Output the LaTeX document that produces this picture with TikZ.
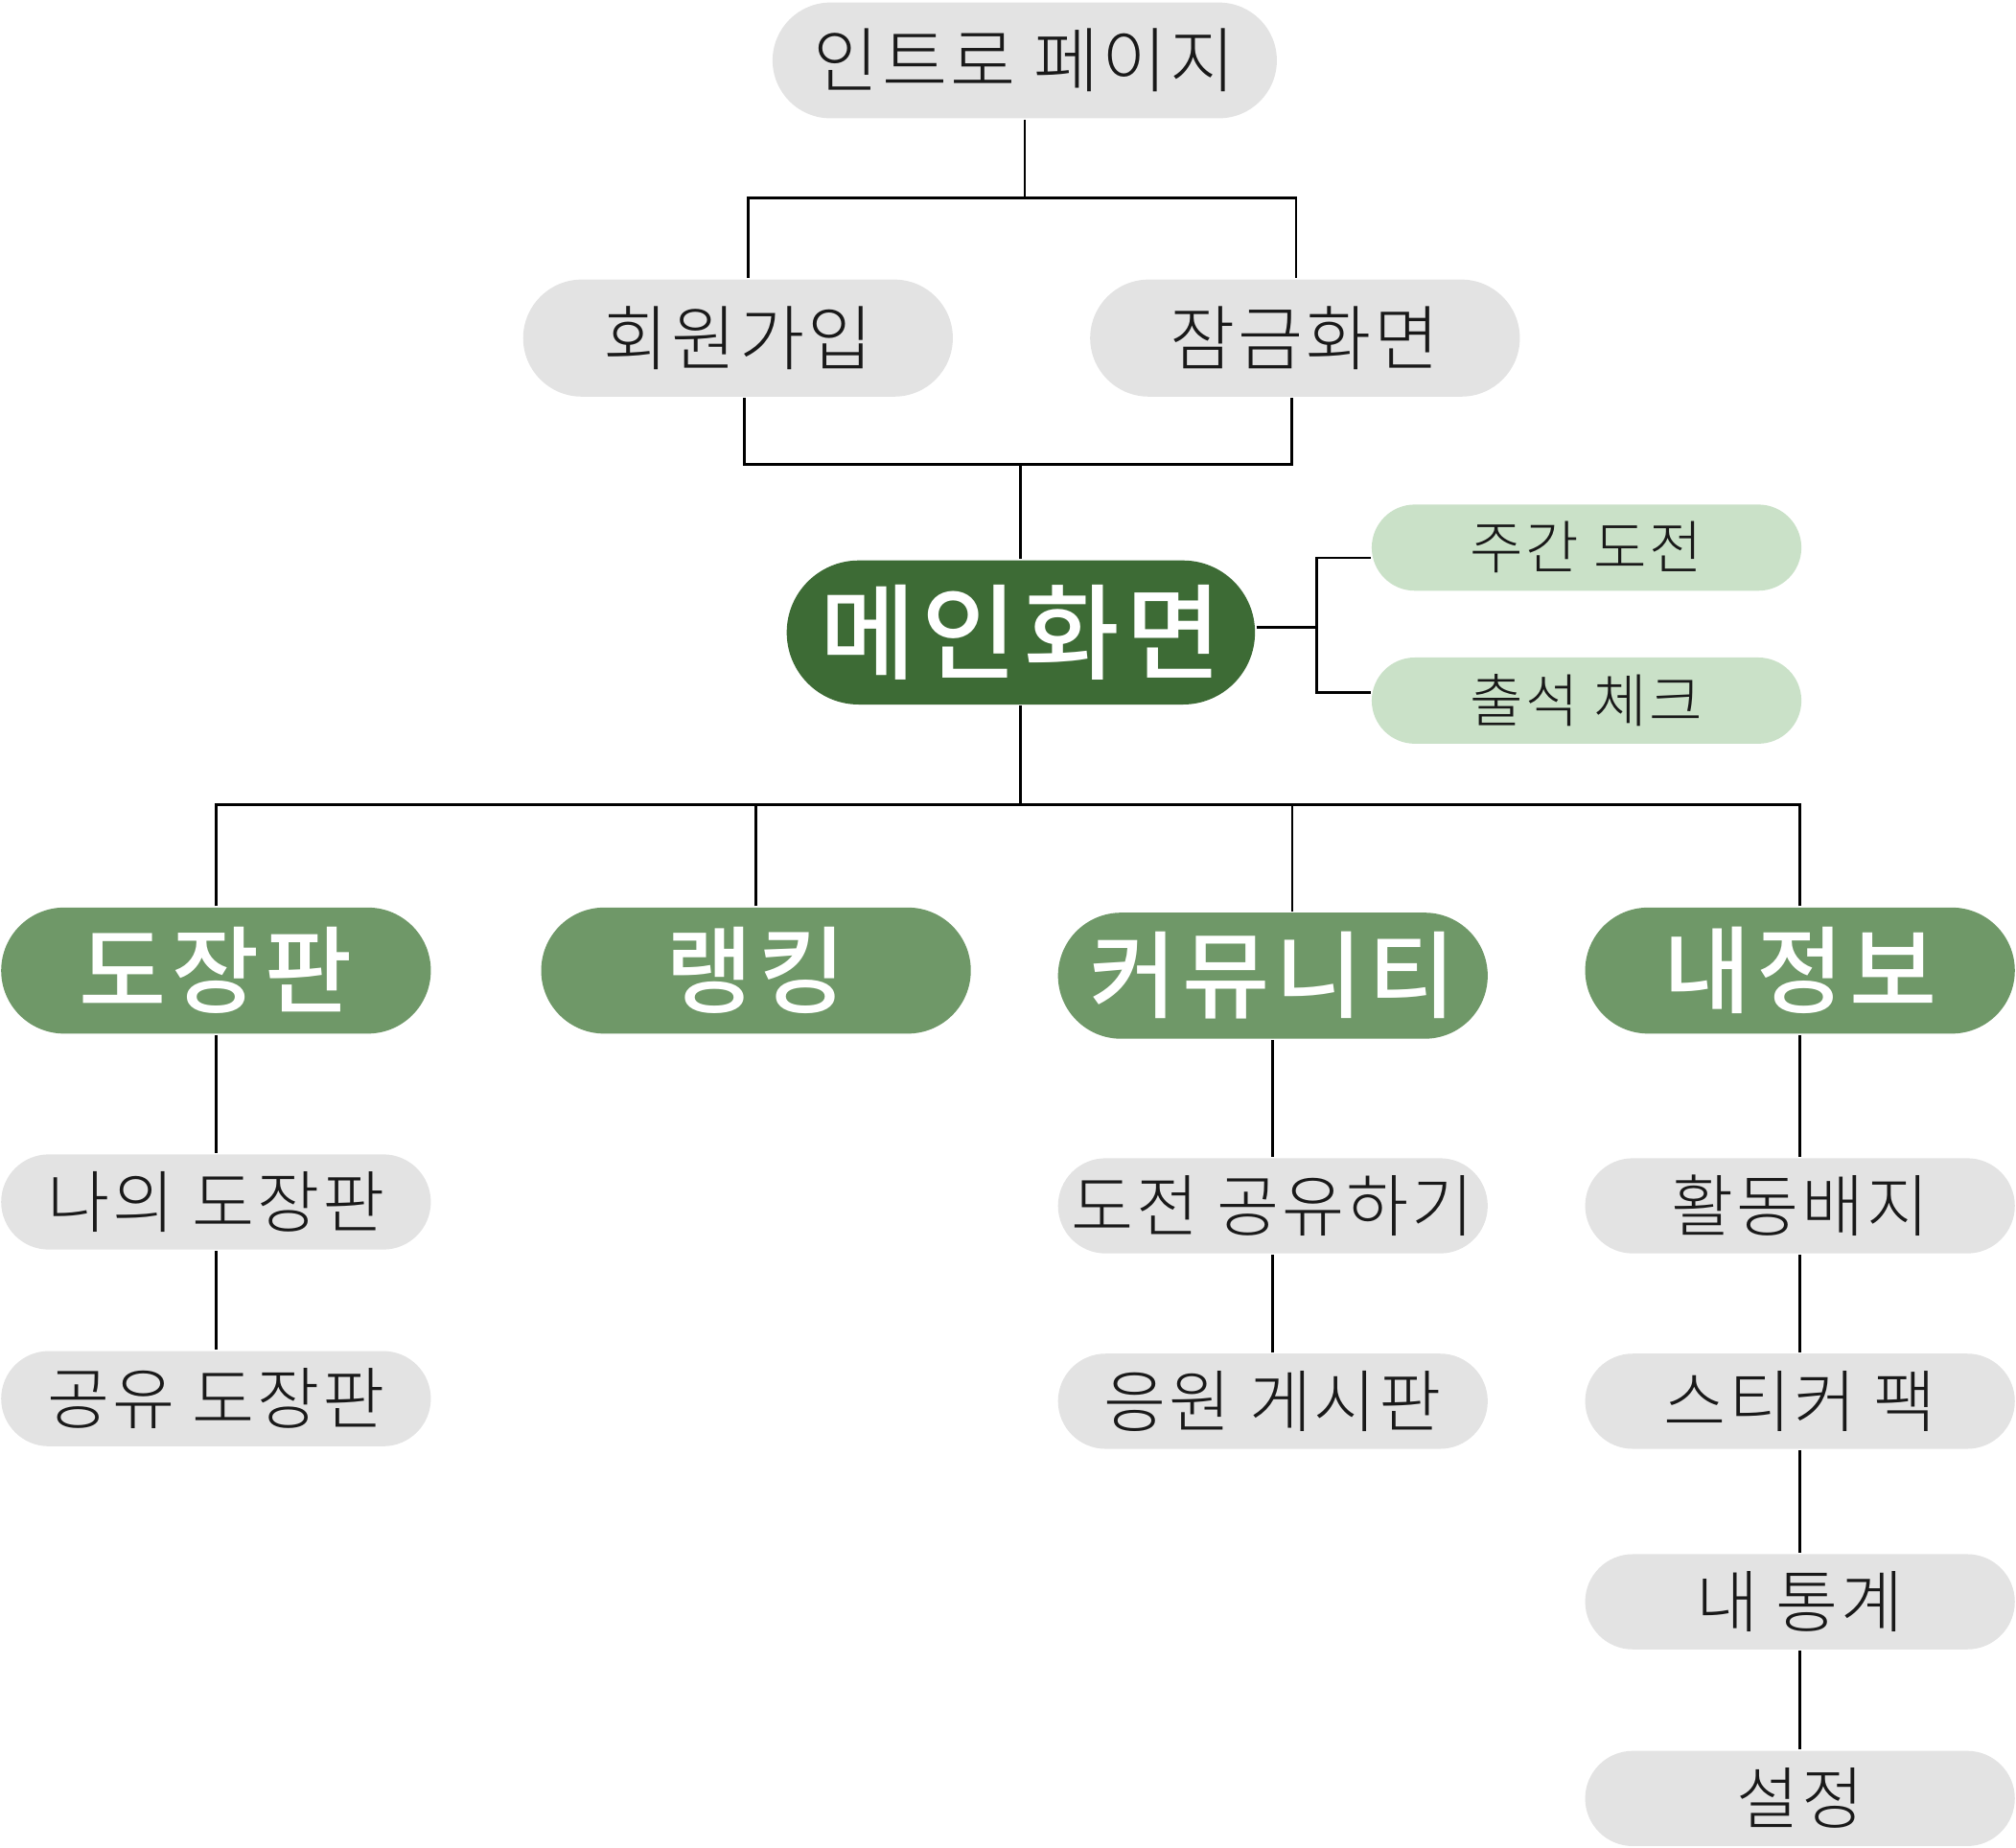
\documentclass[tikz,border=0pt]{standalone}
\usepackage{fontspec}
\setmainfont{Noto Sans CJK KR}
\IfFontExistsTF{Noto Sans CJK KR Light}
  {\newfontfamily\krlight[LetterSpace=4]{Noto Sans CJK KR Light}}
  {\newfontfamily\krlight[LetterSpace=4]{Noto Sans CJK KR}}
\IfFontExistsTF{Noto Sans CJK KR Medium}
  {\newfontfamily\krheavy[LetterSpace=6]{Noto Sans CJK KR Medium}}
  {\newfontfamily\krheavy[LetterSpace=6]{Noto Sans CJK KR Bold}}
\usepackage{tikz}

\definecolor{boxgray}{HTML}{E3E3E3}
\definecolor{maingreen}{HTML}{3D6B35}
\definecolor{menugreen}{HTML}{6F9868}
\definecolor{palegreen}{HTML}{CAE1C8}

\begin{document}
\begin{tikzpicture}[x=0.01cm, y=-0.01cm, line width=0.6pt,
  pagebox/.style={fill=boxgray, text=black!90, inner sep=0pt, minimum width=3.34cm,
    minimum height=0.91cm, rounded corners=0.455cm, font=\krlight\fontsize{15.7}{18}\selectfont},
  mainbox/.style={fill=maingreen, text=white, inner sep=0pt, minimum width=3.64cm,
    minimum height=1.12cm, rounded corners=0.56cm, font=\krheavy\fontsize{23}{27}\selectfont},
  quickbox/.style={fill=palegreen, text=black!90, inner sep=0pt, minimum width=3.34cm,
    minimum height=0.67cm, rounded corners=0.335cm, font=\krlight\fontsize{12.8}{15}\selectfont},
  menubox/.style={fill=menugreen, text=white, inner sep=0pt, minimum width=3.34cm,
    minimum height=0.98cm, rounded corners=0.49cm, font=\krheavy\fontsize{21}{25}\selectfont},
  subbox/.style={fill=boxgray, text=black!90, inner sep=0pt, minimum width=3.34cm,
    minimum height=0.74cm, rounded corners=0.37cm, font=\krlight\fontsize{15}{18}\selectfont}]
\useasboundingbox (0,0) rectangle (1568,1437);

% pages
\node[pagebox, minimum width=3.92cm, minimum height=0.9cm, rounded corners=0.45cm] (intro) at (797,47) {인트로 페이지};
\node[pagebox] (signup) at (574,263) {회원가입};
\node[pagebox] (lock) at (1015,263) {잠금화면};
\node[mainbox] (main) at (794,492) {메인화면};
\node[quickbox] (weekly) at (1234,426) {주간 도전};
\node[quickbox] (attend) at (1234,545) {출석 체크};

% menus
\node[menubox] (board) at (168,755) {도장판};
\node[menubox] (rank) at (588,755) {랭킹};
\node[menubox] (comm) at (990,759) {커뮤니티};
\node[menubox] (myinfo) at (1400,755) {내정보};

% sub pages
\node[subbox] (myboard) at (168,935) {나의 도장판};
\node[subbox] (shareboard) at (168,1088) {공유 도장판};
\node[subbox] (sharechal) at (990,938) {도전 공유하기};
\node[subbox] (cheer) at (990,1090) {응원 게시판};
\node[subbox] (badge) at (1400,938) {활동배지};
\node[subbox] (sticker) at (1400,1090) {스티커 팩};
\node[subbox] (stats) at (1400,1246) {내 통계};
\node[subbox] (settings) at (1400,1399) {설정};

% junctions
\coordinate (j1) at (797,154);
\coordinate (j2) at (794,361);
\coordinate (j3) at (1024,488);
\coordinate (j4) at (794,626);

\draw (intro) -- (j1);
\draw ([xshift=0.08cm]signup.north) |- (j1) -| ([xshift=-0.07cm]lock.north);
\draw ([xshift=0.05cm]signup.south) |- (j2) -| ([xshift=-0.1cm]lock.south);
\draw (j2) -- (main);
\draw (main.east |- j3) -- (j3);
\draw ([yshift=-0.08cm]weekly.west) -| (j3);
\draw ([yshift=0.06cm]attend.west) -| (j3);
\draw (main) -- (j4);
\foreach \n in {board,rank,myinfo}
\draw (\n.north) |- (j4);
\draw ([xshift=0.15cm]comm.north) |- (j4);
\foreach \from/\to in
{board/myboard,myboard/shareboard,comm/sharechal,sharechal/cheer,myinfo/badge,badge/sticker,sticker/stats,stats/settings}
\draw (\from) -- (\to);
\end{tikzpicture}
\end{document}
